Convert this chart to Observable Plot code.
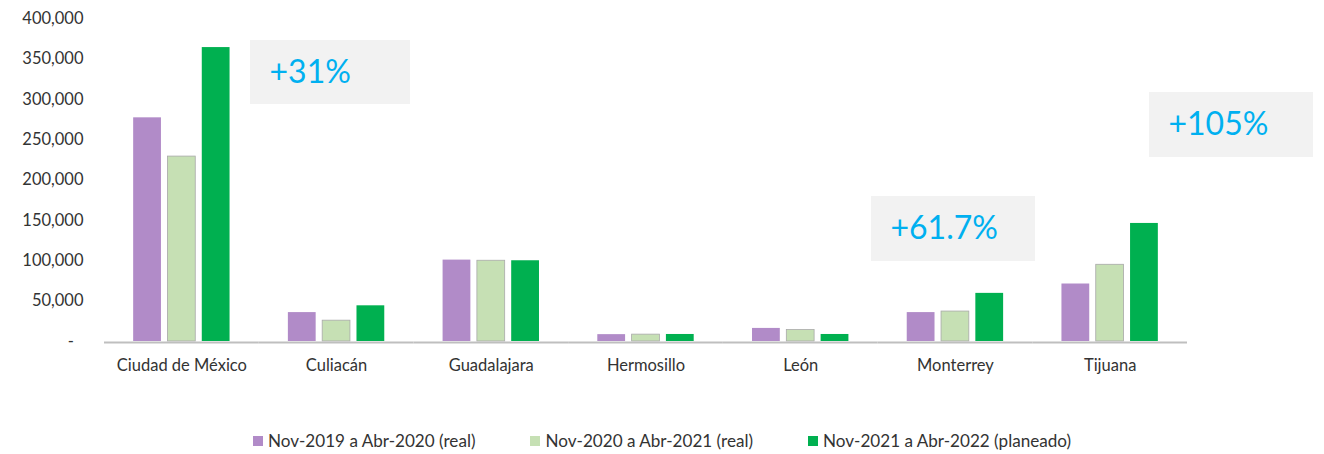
<!DOCTYPE html>
<html>
<head>
<meta charset="utf-8">
<script src="https://cdn.jsdelivr.net/npm/d3@7"></script>
<script src="https://cdn.jsdelivr.net/npm/@observablehq/plot@0.6"></script>
<style>
  html, body { margin: 0; padding: 0; background: #fff; }
  body { font-family: Lato, "Open Sans", sans-serif; width: 1324px; height: 454px; overflow: hidden; }
  #legend { display: flex; justify-content: center; gap: 55px; padding-top: 16px; font-size: 17.1px; line-height: 20px; color: #333; }
  #legend .item { display: flex; align-items: center; gap: 5px; }
  #legend .sw { width: 10px; height: 10px; display: inline-block; }
</style>
</head>
<body>
<div id="chart"></div>
<div id="legend"></div>
<script>
// ---- data ----
const cities = ["Ciudad de México", "Culiacán", "Guadalajara", "Hermosillo", "León", "Monterrey", "Tijuana"];
const seriesNames = ["Nov-2019 a Abr-2020 (real)", "Nov-2020 a Abr-2021 (real)", "Nov-2021 a Abr-2022 (planeado)"];
const values2019 = [277000, 35800, 100800, 8500, 16200, 35800, 71200];
const values2020 = [229000, 25800, 100000, 8500, 14200, 37100, 95000];
const values2021 = [364000, 44200, 100000, 8700, 8700, 59600, 146200];
const yTicks = [0, 50000, 100000, 150000, 200000, 250000, 300000, 350000, 400000];
const noteLabels = ["+31%", "+61.7%", "+105%"];
const noteCities = ["Culiacán", "Monterrey", "Tijuana"];
const noteLow = [293500, 99000, 227900];
const noteHigh = [372800, 179600, 308400];
const colors = ["#b18bc8", "#c6e0b4", "#00b050"];

// ---- build tables ----
const seriesValues = [values2019, values2020, values2021];
const rows = [];
cities.forEach((c, i) => seriesNames.forEach((s, j) => rows.push({city: c, series: s, value: seriesValues[j][i]})));
const notes = noteLabels.map((l, i) => ({label: l, city: noteCities[i], lo: noteLow[i], hi: noteHigh[i], mid: (noteLow[i] + noteHigh[i]) / 2}));

// box horizontal extents inside their facet (styling)
const boxInsets = [[-8.7, 3.4], [-6.6, -2.7], [116.7, -126]];

const fmt = d3.format(",");
const chart = Plot.plot({
  width: 1324,
  height: 415,
  marginTop: 18,
  marginBottom: 74,
  marginLeft: 104,
  marginRight: 137,
  style: {fontFamily: "Lato, 'Open Sans', sans-serif", fontSize: "16.5px", color: "#333", background: "#fff", overflow: "visible"},
  fx: {domain: cities, padding: 0, round: false, label: null, axis: "bottom", tickSize: 0, tickPadding: 18},
  x: {domain: seriesNames, axis: null, round: false, paddingInner: 0.19, paddingOuter: 0.85},
  y: {domain: [0, 400000], ticks: yTicks, tickFormat: d => d === 0 ? "-\u2007" : fmt(d), tickSize: 0, tickPadding: 21, label: null},
  color: {domain: seriesNames, range: colors},
  marks: [
    ...notes.map((n, i) => Plot.rect([n], {fx: "city", y1: "lo", y2: "hi", fill: "#f2f2f2", insetLeft: boxInsets[i][0], insetRight: boxInsets[i][1]})),
    ...notes.map((n, i) => Plot.text([n], {fx: "city", y: "mid", text: "label", frameAnchor: "left", textAnchor: "start", dx: boxInsets[i][0] + 19, fill: "#00b0f0", fontSize: 32})),
    Plot.barY(rows, {fx: "city", x: "series", y: "value", fill: "series"}),
    Plot.barY(rows, {filter: d => d.series === seriesNames[1], fx: "city", x: "series", y: "value", fill: "none", stroke: "#a9a9a9", strokeWidth: 0.8}),
    Plot.ruleY([0], {stroke: "#bfbfbf", strokeWidth: 2, dy: 1})
  ]
});
document.getElementById("chart").appendChild(chart);

// ---- legend ----
const legend = document.getElementById("legend");
seriesNames.forEach((s, i) => {
  const item = document.createElement("span");
  item.className = "item";
  const sw = document.createElement("span");
  sw.className = "sw";
  sw.style.background = colors[i];
  const t = document.createElement("span");
  t.textContent = s;
  item.appendChild(sw);
  item.appendChild(t);
  legend.appendChild(item);
});
</script>
</body>
</html>
